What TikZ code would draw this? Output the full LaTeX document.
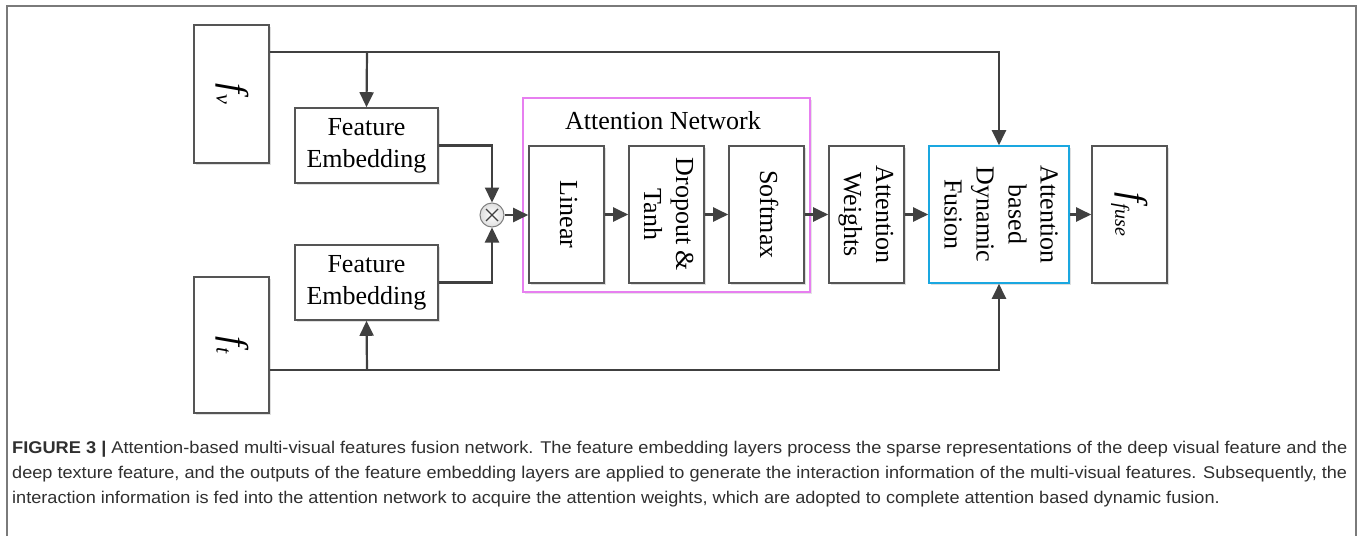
\documentclass[tikz,border=0pt]{standalone}
\usepackage{fontspec}
\setmainfont{Liberation Serif}
\newfontfamily\capfont{Liberation Sans}
\usetikzlibrary{arrows.meta,shadows}
\definecolor{linegray}{HTML}{404040}
\definecolor{boxgray}{HTML}{555555}
\definecolor{netmag}{HTML}{E77FF0}
\definecolor{fuscyan}{HTML}{1AA7E0}
\definecolor{framegray}{HTML}{7A7A7A}
\definecolor{captext}{HTML}{303030}
\newcommand{\rtext}[1]{\rotatebox[origin=c]{-90}{\begin{tabular}{@{}c@{}}#1\end{tabular}}}
\newcommand{\capfontsize}{\capfont\fontsize{17}{25}\selectfont}
\newcommand{\captwo}{deep texture feature, and the outputs of the feature embedding layers are applied to generate the interaction information of the multi-visual features. Subsequently, the}
\newcommand{\capscaled}[1]{\setbox0=\hbox{\capfontsize\captwo}\pgfmathsetmacro{\capsc}{1335/\the\wd0}\scalebox{\capsc}[1]{#1}}
\begin{document}
\begin{tikzpicture}[x=1pt,y=-1pt,
  every node/.style={font=\fontsize{26}{32}\selectfont},
  blk/.style={draw=boxgray, line width=1.6pt, fill=white, inner sep=0pt,
    drop shadow={shadow xshift=2pt, shadow yshift=-2pt, opacity=0.25, fill=gray}},
  tall/.style={blk, minimum width=75pt, minimum height=137pt},
  emb/.style={blk, minimum width=143pt, minimum height=75pt, align=center},
  conn/.style={draw=linegray, line width=2.2pt},
  arr/.style={conn, -{Triangle[length=15pt,width=14pt]}},
  capline/.style={anchor=base west, inner sep=0pt, text=captext, font=\capfontsize}
]
\useasboundingbox (0,0) rectangle (1358,536);
\fill[white] (0,0) rectangle (1358,536);
% outer frame
\draw[framegray, line width=1.5pt] (7,536) -- (7,6) -- (1356,6) -- (1356,536);

% attention network container
\node[draw=netmag, line width=1.5pt, minimum width=287pt, minimum height=194pt, inner sep=0pt,
  drop shadow={shadow xshift=2pt, shadow yshift=-2pt, opacity=0.2, fill=gray}, fill=white] (net) at (666.5,195) {};
\node (nettitle) at (663,121) {Attention Network};

% inputs
\node[tall, minimum height=138pt] (fv) at (231.5,94) {\rtext{\fontsize{36}{36}\selectfont\itshape f\kern1pt\raisebox{-7pt}{\fontsize{22}{22}\selectfont v}}};
\node[tall, minimum height=136pt] (ft) at (231.5,345) {\rtext{\fontsize{36}{36}\selectfont\itshape f\kern1pt\raisebox{-7pt}{\fontsize{22}{22}\selectfont t}}};

\node[emb] (fe1) at (366.5,145.5) {Feature\\Embedding};
\node[emb] (fe2) at (366.5,282.5) {Feature\\Embedding};

\node[circle, draw=gray, line width=1pt, minimum size=24pt, inner sep=0pt,
  inner color=white, outer color=gray!25] (mul) at (492,215) {};
\draw[linegray, line width=1.4pt] ([shift={(-6pt,-6pt)}]mul.center) -- ([shift={(6pt,6pt)}]mul.center)
  ([shift={(-6pt,6pt)}]mul.center) -- ([shift={(6pt,-6pt)}]mul.center);

\node[tall] (lin) at (566.5,214.5) {\rtext{Linear}};
\node[tall] (drop) at (666.5,214.5) {\rtext{Dropout \&\\Tanh}};
\node[tall] (soft) at (766.5,214.5) {\rtext{Softmax}};
\node[tall] (wts) at (866.5,214.5) {\rtext{Attention\\Weights}};
\node[tall, draw=fuscyan, minimum width=140pt] (fus) at (999,214.5) {\rtext{Attention\\based\\Dynamic\\Fusion}};
\node[tall] (ffuse) at (1129.5,214.5) {\rtext{\fontsize{36}{36}\selectfont\itshape f\kern1pt\raisebox{-7pt}{\fontsize{20}{20}\selectfont fuse}}};

% coordinates for branching
\coordinate (topj) at (367,52);
\coordinate (botj) at (367,370);

% connectors
\draw[conn] (fv.east |- topj) -- (topj);
\draw[arr] (topj) -- (topj -| fus.north) -- (fus.north);
\draw[arr] (topj) -- (fe1.north);
\draw[conn] (ft.east |- botj) -- (botj);
\draw[arr] (botj) -- (botj -| fus.south) -- (fus.south);
\draw[arr] (botj) -- (fe2.south);
\draw[arr] (fe1.east) -| (mul.north);
\draw[arr] (fe2.east) -| (mul.south);
\draw[arr] (mul.east) -- (lin.west |- mul.east);
\draw[arr] (lin) -- (drop);
\draw[arr] (drop) -- (soft);
\draw[arr] (soft) -- (wts);
\draw[arr] (wts) -- (fus);
\draw[arr] (fus) -- (ffuse);

% caption
\node[capline] (c1) at (12,453) {\resizebox{1335pt}{\height}{\textbf{FIGURE 3 |} Attention-based multi-visual features fusion network. The feature embedding layers process the sparse representations of the deep visual feature and the}};
\node[capline] (c2) at (12,478) {\resizebox{1335pt}{\height}{\captwo}};
\node[capline] (c3) at (12,503) {\capscaled{interaction information is fed into the attention network to acquire the attention weights, which are adopted to complete attention based dynamic fusion.}};
\end{tikzpicture}
\end{document}
